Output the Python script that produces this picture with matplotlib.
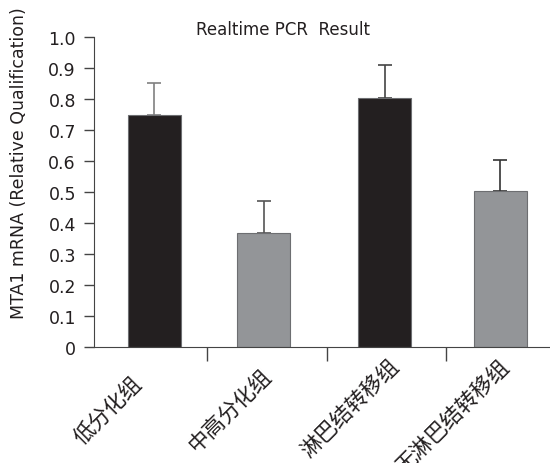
import matplotlib
matplotlib.use('Agg')
import matplotlib.pyplot as plt
import numpy as np
from matplotlib.transforms import offset_copy

plt.rcParams['font.family'] = ['DejaVu Sans', 'Noto Sans CJK SC']

groups = ['低分化组', '中高分化组', '淋巴结转移组', '无淋巴结转移组']
values = [0.75, 0.368, 0.804, 0.503]
errors = [0.102, 0.103, 0.105, 0.10]
bar_colors = ['#231f20', '#939598', '#231f20', '#939598']
err_colors = ['#808080', '#555555', '#444444', '#333333']
yticks = [0, 0.1, 0.2, 0.3, 0.4, 0.5, 0.6, 0.7, 0.8, 0.9, 1.0]
ytick_labels = ['0', '0.1', '0.2', '0.3', '0.4', '0.5', '0.6', '0.7', '0.8', '0.9', '1.0']

# bars in the original are not quite centred in their slots
slot_shift = [0.055, -0.03, -0.017, -0.046]
# hand placed labels in the original: nudge (points right, points down)
label_nudge = [(-6, 12), (1, 6), (7, 0), (0, 0)]

fig = plt.figure(figsize=(5.5, 4.64), dpi=100)
ax = fig.add_axes([0.171, 0.25, 0.827, 0.668])

slots = np.arange(len(groups))
x = slots + np.array(slot_shift)
ax.bar(x, values, width=0.44, color=bar_colors, edgecolor='#6d6e71', linewidth=0.8, zorder=2)
for xi, v, e, c in zip(x, values, errors, err_colors):
    ax.errorbar([xi], [v], yerr=[[0], [e]], fmt='none', ecolor=c, elinewidth=1.2,
                capsize=4.7, capthick=1.2, zorder=1)

ax.set_ylim(0, 1.0)
ax.set_xlim(-0.45, 3.36)
ax.set_yticks(yticks)
ax.set_yticklabels(ytick_labels, fontsize=12.5, color='#231f20')
ax.tick_params(axis='y', direction='out', length=7, width=1, color='#444444', pad=6)

# x ticks sit at the boundaries between groups, labels are free text
ax.set_xticks([0.5, 1.5, 2.5])
ax.set_xticklabels([])
ax.tick_params(axis='x', direction='out', length=10, width=1, color='#444444')
for xi, g, (dx, dy) in zip(slots, groups, label_nudge):
    tr = offset_copy(ax.transData, fig=fig, x=dx, y=-dy, units='points')
    ax.text(xi + 0.06, -0.025, g, rotation=45, ha='right', va='top', fontsize=15.5,
            family=['Noto Sans CJK SC', 'DejaVu Sans'], color='#231f20',
            transform=tr, clip_on=False)

for s in ['top', 'right']:
    ax.spines[s].set_visible(False)
ax.spines['left'].set_color('#444444')
ax.spines['bottom'].set_color('#444444')

fig.text(283 / 550, 1 - 30 / 464, 'Realtime PCR  Result', fontsize=12, color='#231f20',
         ha='center', va='center')
fig.text(19 / 550, 1 - 163 / 464, 'MTA1 mRNA (Relative Qualification)', fontsize=12.5,
         color='#231f20', rotation=90, ha='center', va='center')

fig.savefig('out.png', dpi=100)
